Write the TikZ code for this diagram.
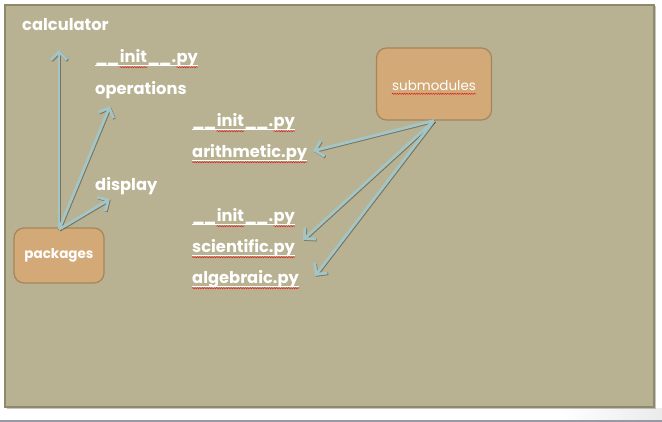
\documentclass[tikz,border=0pt]{standalone}
\usepackage{fontspec}
\setmainfont{Poppins}[Ligatures=NoCommon]
\usetikzlibrary{arrows.meta,decorations.pathmorphing}
\definecolor{panel}{HTML}{B8B292}
\definecolor{panelborder}{HTML}{8D896B}
\definecolor{boxfill}{HTML}{D2A977}
\definecolor{boxborder}{HTML}{A4865C}
\definecolor{arrowcol}{HTML}{A3C5C5}
\definecolor{wavered}{HTML}{E0201A}
\newcommand{\uscore}{\_\kern-1.2pt\_}
\begin{document}
\begin{tikzpicture}[x=1pt,y=-1pt,
  lbl/.style={anchor=base west, inner sep=0pt, text=white, font=\fontsize{16.3}{18}\selectfont\bfseries},
  boxnode/.style={draw=boxborder, line width=1.2pt, fill=boxfill, rounded corners=10pt, text=white, font=\fontsize{13.5}{15}\selectfont\bfseries},
  tip/.style={-{Straight Barb[length=8pt,width=16pt]}},
  link/.style={draw=arrowcol, line width=2.8pt, tip,
    preaction={draw=black, opacity=0.35, line width=2.8pt, tip, transform canvas={shift={(0.8pt,-0.8pt)}}}},
  uline/.style={draw=white, line width=1.1pt},
  wave/.style={draw=wavered, line width=0.5pt, decorate, decoration={snake, segment length=2.4pt, amplitude=0.6pt}}
]
\useasboundingbox (0,0) rectangle (662,422);
\fill[white] (0,0) rectangle (662,422);
\shade[left color=white, right color=black!8] (560,408) rectangle (662,420);
\fill[black!40!blue!15!gray!70] (0,420) rectangle (662,422);
% panel
\fill[black!45, opacity=0.5] (6.5,6.5) rectangle (656,409);
\draw[panelborder, line width=1.6pt, fill=panel] (5,5) rectangle (654,407);

% labels
\node[lbl] (calc) at (22,31) {calculator};
\node[lbl] (oper) at (95,95) {operations};
\node[lbl] (disp) at (95,191) {display};

% __init__.py labels, split so the wavy marks sit under "init" and "py"
\foreach \nm/\x/\y in {A/95/63, B/192/127, C/192/222} {
  \node[lbl] (initu\nm) at (\x,\y) {\uscore};
  \node[lbl] (initw\nm) at (initu\nm.base east) {init};
  \node[lbl] (initd\nm) at (initw\nm.base east) {\uscore.};
  \node[lbl] (initp\nm) at (initd\nm.base east) {py};
  \draw[uline] ([yshift=-2.8pt]initu\nm.base west) -- ([yshift=-2.8pt]initp\nm.base east);
  \draw[wave] ([yshift=-4.2pt]initw\nm.base west) -- ([yshift=-4.2pt]initw\nm.base east);
  \draw[wave] ([yshift=-4.2pt]initp\nm.base west) -- ([yshift=-4.2pt]initp\nm.base east);
}
\node[lbl] (arith) at (192,158) {arithmetic.py};
\node[lbl] (sci) at (192,253) {scientific.py};
\node[lbl] (alg) at (192,284) {algebraic.py};
\foreach \n in {arith,sci,alg} {
  \draw[uline] ([yshift=-2.8pt]\n.base west) -- ([yshift=-2.8pt]\n.base east);
  \draw[wave] ([yshift=-4.2pt]\n.base west) -- ([yshift=-4.2pt]\n.base east);
}

% boxes
\node[boxnode, minimum width=90pt, minimum height=55pt] (pk) at (59,255.5) {packages};
\node[boxnode, minimum width=115pt, minimum height=72pt] (sub) at (434,84) {};
\node[anchor=base, inner sep=0pt, text=white, font=\fontsize{13.5}{15}\selectfont] (subt) at (434,91) {submodules};
\draw[wave] ([yshift=-2.8pt]subt.base west) -- ([yshift=-2.8pt]subt.base east);

% arrow targets
\coordinate (calcin) at (59,50);
\coordinate (operin) at (110,106);
\coordinate (dispin) at (110,199);
\coordinate (arithin) at (313,151);
\coordinate (sciin) at (303,240);
\coordinate (algin) at (315,276);

\draw[link] ([yshift=-2pt]pk.north) -- (calcin);
\draw[link] ([yshift=-2pt]pk.north) -- (operin);
\draw[link] ([yshift=-2pt]pk.north) -- (dispin);
\draw[link] (sub.south) -- (arithin);
\draw[link] (sub.south) -- (sciin);
\draw[link] (sub.south) -- (algin);
\end{tikzpicture}
\end{document}
